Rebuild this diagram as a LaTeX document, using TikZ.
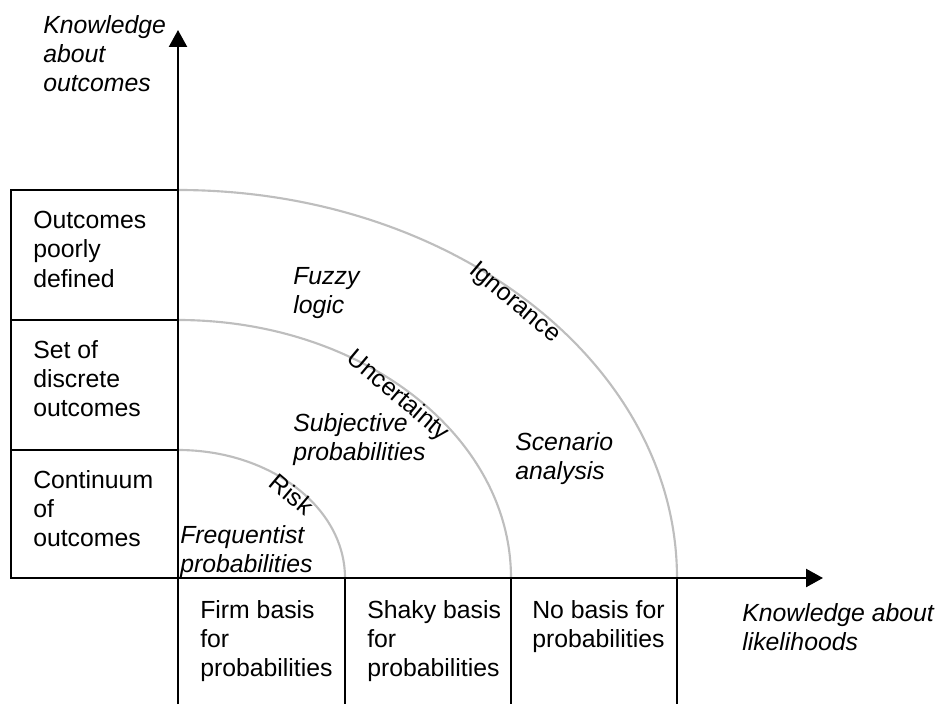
\documentclass[tikz,border=0pt]{standalone}
\usepackage{fontspec}
\setmainfont{Liberation Sans}
\usepackage{xcolor}
\definecolor{grey_arc}{RGB}{190,190,190}
\usepackage{tikz}
\usetikzlibrary{arrows.meta,positioning}

\begin{document}
\begin{tikzpicture}
[
    x = 0.75pt, y = 0.75pt,
    axis/.style = {line width = 1.8pt, -{Triangle[length = 12.75pt, width = 13.5pt]}},
    frame/.style = {line width = 1.8pt},
    arcline/.style = {line width = 1.6pt, color = grey_arc},
    txt/.style = {anchor = north west, inner sep = 0pt, align = left, font = \fontsize{18.6}{22}\selectfont},
    itxt/.style = {txt, font = \fontsize{18.6}{22}\selectfont\itshape},
    arclabel/.style = {anchor = north, inner sep = 0pt, yshift = 1.5pt, rotate = -40, font = \fontsize{18.6}{22}\selectfont}
]
\useasboundingbox (-178,-126) rectangle (760,578);

% corners of the frame
\coordinate (O) at (0,0);
\coordinate (ytop) at (0,548);
\coordinate (ybot) at (0,-126);
\coordinate (xleft) at (-167,0);
\coordinate (xright) at (645,0);

% outcome boxes on the left
\draw[frame] (-167,0) rectangle (0,128);
\draw[frame] (-167,128) rectangle (0,258);
\draw[frame] (-167,258) rectangle (0,388);

% likelihood columns below
\coordinate (c1) at (167,0);
\coordinate (c2) at (333,0);
\coordinate (c3) at (499,0);
\foreach \c in {c1,c2,c3}
	\draw[frame] (\c) -- ++(0,-126);

% regions
\draw[arcline] (c1) arc[start angle = 0, end angle = 90, x radius = 167, y radius = 128];
\draw[arcline] (c2) arc[start angle = 0, end angle = 90, x radius = 333, y radius = 258];
\draw[arcline] (c3) arc[start angle = 0, end angle = 90, x radius = 499, y radius = 388];

% axes
\draw[axis] (ybot) -- (ytop);
\draw[axis] (xleft) -- (xright);

\node[itxt] (koutcomes) at (-135,563) {Knowledge\\about\\outcomes};
\node[itxt] (klikely) at (564,-25) {Knowledge about\\likelihoods};

\node[txt] (poorly) at (-145,367) {Outcomes\\poorly\\defined};
\node[txt] (discrete) at (-145,238) {Set of\\discrete\\outcomes};
\node[txt] (continuum) at (-145,108) {Continuum\\of\\outcomes};

\node[txt] (firm) at (22,-22) {Firm basis\\for\\probabilities};
\node[txt] (shaky) at (189,-22) {Shaky basis\\for\\probabilities};
\node[txt] (nobasis) at (354,-22) {No basis for\\probabilities};

\node[itxt] (frequentist) at (2,53) {Frequentist\\probabilities};
\node[itxt] (subjective) at (115,165) {Subjective\\probabilities};
\node[itxt] (fuzzy) at (115,311) {Fuzzy\\logic};
\node[itxt] (scenario) at (337,146) {Scenario\\analysis};

\node[arclabel] (risk) at (44:167 and 128) {Risk};
\node[arclabel] (uncertainty) at (47:333 and 258) {Uncertainty};
\node[arclabel] (ignorance) at (46.5:499 and 388) {Ignorance};
\end{tikzpicture}
\end{document}
